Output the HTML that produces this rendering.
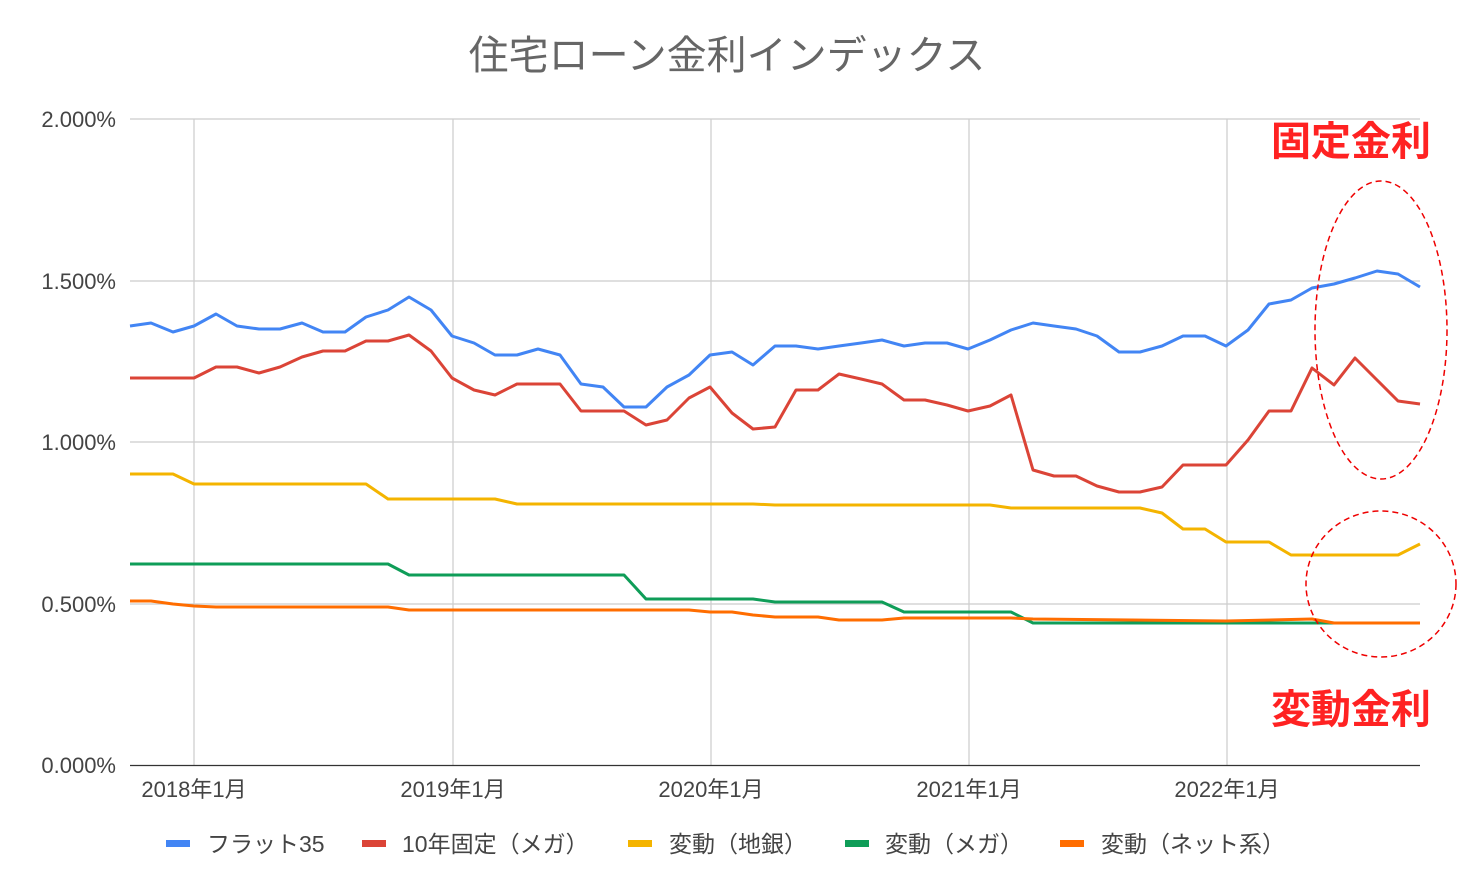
<!DOCTYPE html>
<html><head><meta charset="utf-8"><style>
html,body{margin:0;padding:0;background:#fff;}
svg{display:block;font-family:"Liberation Sans","Noto Sans CJK JP",sans-serif;}
</style></head><body>
<svg width="1466" height="888" viewBox="0 0 1466 888" xmlns="http://www.w3.org/2000/svg">
<rect width="1466" height="888" fill="#fff"/>
<text x="727" y="69" text-anchor="middle" font-size="40" fill="#666">住宅ローン金利インデックス</text>
<g stroke="#ccc" stroke-width="1.2">
<line x1="130" y1="119" x2="1420" y2="119"/>
<line x1="130" y1="281" x2="1420" y2="281"/>
<line x1="130" y1="442" x2="1420" y2="442"/>
<line x1="130" y1="604" x2="1420" y2="604"/>
<line x1="194" y1="119" x2="194" y2="765"/>
<line x1="453" y1="119" x2="453" y2="765"/>
<line x1="711" y1="119" x2="711" y2="765"/>
<line x1="969" y1="119" x2="969" y2="765"/>
<line x1="1227" y1="119" x2="1227" y2="765"/>
</g>
<line x1="130" y1="765.5" x2="1420" y2="765.5" stroke="#333" stroke-width="1.2"/>
<g font-size="22" fill="#444" text-anchor="end">
<text x="116" y="127">2.000%</text>
<text x="116" y="289">1.500%</text>
<text x="116" y="450">1.000%</text>
<text x="116" y="612">0.500%</text>
<text x="116" y="773">0.000%</text>
</g>
<g font-size="22" fill="#444" text-anchor="middle">
<text x="194" y="797">2018年1月</text>
<text x="453" y="797">2019年1月</text>
<text x="711" y="797">2020年1月</text>
<text x="969" y="797">2021年1月</text>
<text x="1227" y="797">2022年1月</text>
</g>
<g fill="none" stroke-width="3" stroke-linejoin="round">
<polyline stroke="#4285f4" points="130,326 151,323 173,332 194,326 216,314 237,326 259,329 280,329 302,323 323,332 345,332 366,317 388,310 409,297 431,310 452,336 474,343 495,355 517,355 538,349 560,355 581,384 603,387 624,407 646,407 667,387 689,375 710,355 732,352 753,365 775,346 796,346 818,349 839,346 861,343 882,340 904,346 925,343 947,343 968,349 990,340 1011,330 1033,323 1054,326 1076,329 1097,336 1119,352 1140,352 1162,346 1183,336 1205,336 1226,346 1248,330 1269,304 1291,300 1312,288 1334,284 1355,278 1377,271 1398,274 1420,287"/>
<polyline stroke="#db4437" points="130,378 151,378 173,378 194,378 216,367 237,367 259,373 280,367 302,357 323,351 345,351 366,341 388,341 409,335 431,351 452,378 474,390 495,395 517,384 538,384 560,384 581,411 603,411 624,411 646,425 667,420 689,398 710,387 732,413 753,429 775,427 796,390 818,390 839,374 861,379 882,384 904,400 925,400 947,405 968,411 990,406 1011,395 1033,470 1054,476 1076,476 1097,486 1119,492 1140,492 1162,487 1183,465 1205,465 1226,465 1248,440 1269,411 1291,411 1312,368 1334,385 1355,358 1377,380 1398,401 1420,404"/>
<polyline stroke="#f4b400" points="130,474 173,474 194,484 366,484 388,499 495,499 517,504 753,504 775,505 990,505 1011,508 1140,508 1162,513 1183,529 1205,529 1226,542 1269,542 1291,555 1398,555 1420,544"/>
<polyline stroke="#0f9d58" points="130,564 388,564 409,575 624,575 646,599 753,599 775,602 882,602 904,612 1011,612 1033,623 1420,623"/>
<polyline stroke="#ff6d00" points="130,601 151,601 173,604 194,606 216,607 388,607 409,610 689,610 710,612 732,612 753,615 775,617 818,617 839,620 882,620 904,618 1011,618 1033,619 1226,621 1312,619 1334,623 1420,623"/>
</g>
<g fill="none" stroke="#e00" stroke-width="1.5" stroke-dasharray="6,4">
<ellipse cx="1381" cy="330" rx="66" ry="149"/>
<ellipse cx="1381" cy="584" rx="75" ry="73"/>
</g>
<g font-size="40" font-weight="bold" fill="#f22" text-anchor="middle">
<text x="1351" y="155">固定金利</text>
<text x="1351" y="723">変動金利</text>
</g>
<g font-size="23" fill="#444">
<rect x="166" y="840" width="24" height="7" fill="#4285f4"/><text x="207" y="852">フラット35</text>
<rect x="362" y="840" width="24" height="7" fill="#db4437"/><text x="402" y="852">10年固定（メガ）</text>
<rect x="628" y="840" width="24" height="7" fill="#f4b400"/><text x="669" y="852">変動（地銀）</text>
<rect x="845" y="840" width="24" height="7" fill="#0f9d58"/><text x="885" y="852">変動（メガ）</text>
<rect x="1060" y="840" width="24" height="7" fill="#ff6d00"/><text x="1101" y="852">変動（ネット系）</text>
</g>
</svg>
</body></html>
